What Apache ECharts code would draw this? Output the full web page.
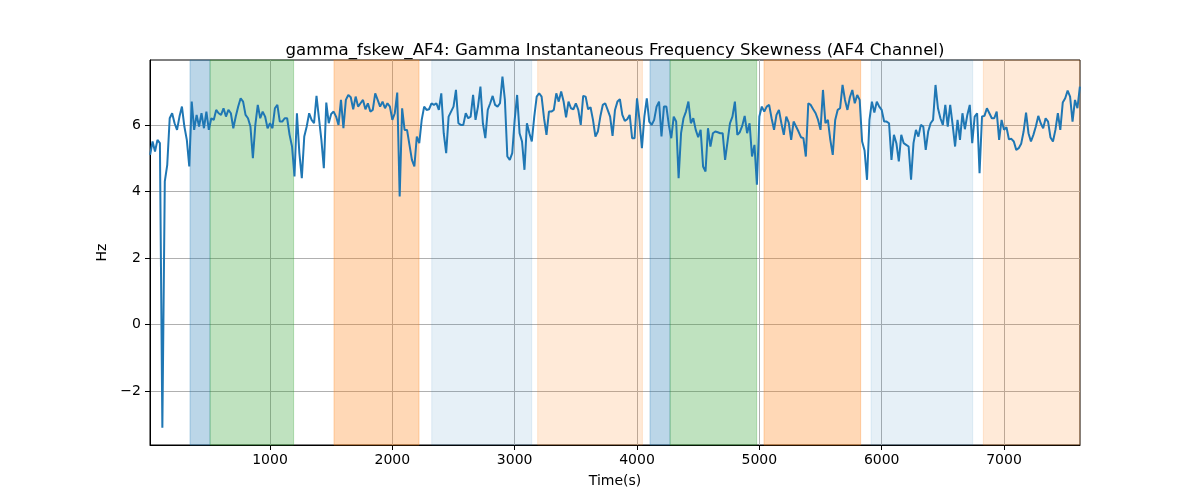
<!DOCTYPE html>
<html>
<head>
<meta charset="utf-8">
<script src="https://cdn.jsdelivr.net/npm/echarts@6/dist/echarts.min.js"></script>
<style>
  html, body { margin: 0; padding: 0; background: #fff; }
  #chart { width: 1200px; height: 500px; }
</style>
</head>
<body>
<div id="chart"></div>
<script>
// sampling grid of the signal (seconds)
const t0 = 20;
const step = 20;

// gamma frequency skewness values
const skewValues = [
  5.1, 5.5, 5.2, 5.55, 5.45, -3.1, 4.3, 4.8, 6.2, 6.35, 6.05, 5.85, 6.25, 6.55, 5.95, 5.55, 4.75, 6.7, 5.85, 6.3,
  5.95, 6.35, 5.9, 6.4, 5.85, 6.2, 6.15, 6.45, 6.35, 6.3, 6.5, 6.25, 6.45, 6.35, 5.9, 6.25, 6.55, 6.8, 6.7, 6.3,
  6.2, 5.95, 5.0, 6.0, 6.6, 6.2, 6.4, 6.25, 5.9,
  6.05, 5.9, 6.5, 6.6, 6.1, 6.1, 6.2, 6.2, 5.7, 5.35, 4.45, 6.35, 5.15, 4.4, 5.65, 5.95, 6.35, 6.15, 6.05, 6.87,
  6.2, 5.55, 4.7, 6.67, 6.05, 6.33, 6.4, 6.25, 6.0, 6.75, 5.9, 6.75, 6.9, 6.83, 6.47, 6.85, 6.55, 6.65, 6.75, 6.47,
  6.65, 6.4, 6.45, 6.95, 6.75, 6.55, 6.7, 6.5, 6.65,
  6.55, 6.15, 6.35, 6.97, 3.85, 6.5, 5.85, 5.85, 5.4, 4.95, 4.75, 5.65, 5.45, 6.15, 6.55, 6.45, 6.47, 6.65, 6.6, 6.65,
  6.45, 6.95, 5.75, 5.15, 6.25, 6.4, 6.55, 7.05, 6.05, 6.0, 6.0, 6.35, 6.2, 6.25, 6.9, 6.15, 6.55, 7.15, 6.05, 5.6,
  6.45, 6.65, 6.87, 6.6, 6.55, 6.65, 7.45, 6.75, 5.05,
  4.95, 5.15, 6.15, 6.9, 5.75, 5.5, 4.65, 6.05, 5.75, 5.5, 6.25, 6.85, 6.95, 6.85, 6.2, 5.7, 6.4, 6.4, 6.45, 6.95,
  6.7, 7.0, 6.7, 6.23, 6.7, 6.5, 6.47, 6.65, 6.45, 6.0, 6.87, 6.85, 6.47, 6.53, 6.15, 5.65, 5.8, 6.25, 6.6, 6.65,
  6.45, 6.25, 5.67, 6.45, 6.7, 6.77, 6.3, 6.12, 6.17,
  6.3, 5.6, 5.6, 6.8, 6.15, 5.3, 6.25, 6.8, 6.1, 6.0, 6.15, 6.55, 6.7, 5.65, 6.55, 6.55, 6.0, 5.6, 6.25, 6.1,
  4.4, 5.75, 6.2, 6.4, 6.7, 6.05, 6.2, 5.85, 5.63, 5.85, 4.75, 4.6, 5.9, 5.35, 5.75, 5.8, 5.78, 5.75, 5.75, 4.95,
  5.5, 6.05, 6.25, 6.7, 5.7, 5.78, 5.97, 6.27, 5.75,
  6.05, 5.05, 5.4, 4.2, 6.25, 6.55, 6.4, 6.55, 6.6, 6.2, 5.85, 6.3, 6.45, 6.05, 5.7, 6.25, 6.07, 5.55, 6.1, 5.95,
  5.8, 5.63, 5.6, 5.05, 6.65, 6.6, 6.47, 6.35, 6.15, 5.85, 7.05, 6.05, 6.15, 5.55, 5.1, 6.15, 6.45, 6.5, 7.2, 6.75,
  6.45, 6.83, 7.05, 6.65, 6.9, 6.75, 5.5, 5.23, 4.35,
  6.15, 6.7, 6.37, 6.7, 6.55, 6.45, 6.1, 6.1, 6.05, 4.95, 5.7, 5.45, 4.9, 5.7, 5.45, 5.4, 5.35, 4.35, 5.45, 5.85,
  5.65, 6.0, 5.95, 5.25, 5.8, 6.05, 6.15, 7.2, 6.5, 6.2, 6.0, 6.6, 5.95, 6.6, 6.0, 5.35, 6.15, 5.55, 6.35, 5.87,
  6.3, 6.6, 5.45, 6.25, 6.35, 4.55, 6.25, 6.27, 6.5,
  6.35, 6.2, 6.2, 6.4, 5.55, 6.15, 5.85, 5.93, 5.57, 5.58, 5.5, 5.25, 5.3, 5.43, 5.8, 6.37, 5.75, 5.5, 5.7, 5.95,
  6.27, 6.05, 5.9, 6.2, 6.1, 5.62, 5.5, 5.85, 6.35, 5.85, 6.67, 6.8, 7.03, 6.85, 6.1, 6.75, 6.5, 7.15
];

// shaded segments [start, end, kind]
const segments = [
  [346, 510, "blue"],
  [510, 1193, "green"],
  [1523, 2218, "orange"],
  [2322, 3139, "lightblue"],
  [3188, 4044, "lightorange"],
  [4106, 4270, "blue"],
  [4270, 4978, "green"],
  [5038, 5828, "orange"],
  [5913, 6744, "lightblue"],
  [6831, 7620, "lightorange"]
];

const xTicks = [1000, 2000, 3000, 4000, 5000, 6000, 7000];
const yTicks = [-2, 0, 2, 4, 6];

const segColors = {
  blue: "rgba(31, 119, 180, 0.3)",
  green: "rgba(44, 160, 44, 0.3)",
  orange: "rgba(255, 127, 14, 0.3)",
  lightblue: "rgba(31, 119, 180, 0.11)",
  lightorange: "rgba(255, 127, 14, 0.16)"
};

const lineData = skewValues.map((v, i) => [t0 + i * step, v]);
const fmtMinus = (v) => String(v).replace("-", "\u2212");
const font = "DejaVu Sans";

const chart = echarts.init(document.getElementById("chart"), null, { renderer: "canvas" });

chart.setOption({
  animation: false,
  title: {
    text: "gamma_fskew_AF4: Gamma Instantaneous Frequency Skewness (AF4 Channel)",
    left: 610,
    textAlign: "center",
    top: 37,
    textStyle: { fontFamily: font, fontSize: 16.6, fontWeight: "normal", color: "#000" }
  },
  grid: {
    left: 150, right: 120, top: 60, bottom: 55,
    show: true, borderColor: "#000", borderWidth: 1, backgroundColor: "transparent"
  },
  xAxis: {
    type: "value",
    min: 19, max: 7621,
    name: "Time(s)",
    nameLocation: "middle",
    nameGap: 29,
    nameTextStyle: { fontFamily: font, fontSize: 14, color: "#000" },
    axisLine: { show: true, onZero: false, lineStyle: { color: "#000", width: 1 } },
    axisTick: { show: true, customValues: xTicks, length: 5, lineStyle: { color: "#000" } },
    axisLabel: { customValues: xTicks, fontFamily: font, fontSize: 14, color: "#000", margin: 8, formatter: (v) => String(v) },
    splitLine: { show: true, lineStyle: { color: "#b0b0b0", width: 1 } }
  },
  yAxis: {
    type: "value",
    min: -3.62, max: 7.95,
    name: "Hz",
    nameLocation: "middle",
    nameGap: 36,
    nameTextStyle: { fontFamily: font, fontSize: 14, color: "#000" },
    axisLine: { show: true, onZero: false, lineStyle: { color: "#000", width: 1 } },
    axisTick: { show: true, customValues: yTicks, length: 5, lineStyle: { color: "#000" } },
    axisLabel: { customValues: yTicks, fontFamily: font, fontSize: 14, color: "#000", margin: 9, formatter: fmtMinus },
    splitLine: { show: true, lineStyle: { color: "#b0b0b0", width: 1 } }
  },
  series: [
    {
      type: "line",
      data: [],
      silent: true,
      z: 1,
      markArea: {
        silent: true,
        data: segments.map((s) => [
          { xAxis: s[0], itemStyle: { color: segColors[s[2]], borderColor: segColors[s[2]], borderWidth: 1 } },
          { xAxis: s[1] }
        ])
      }
    },
    {
      type: "line",
      data: lineData,
      showSymbol: false,
      z: 3,
      lineStyle: { color: "#1f77b4", width: 2 },
      itemStyle: { color: "#1f77b4" }
    }
  ]
});
</script>
</body>
</html>
